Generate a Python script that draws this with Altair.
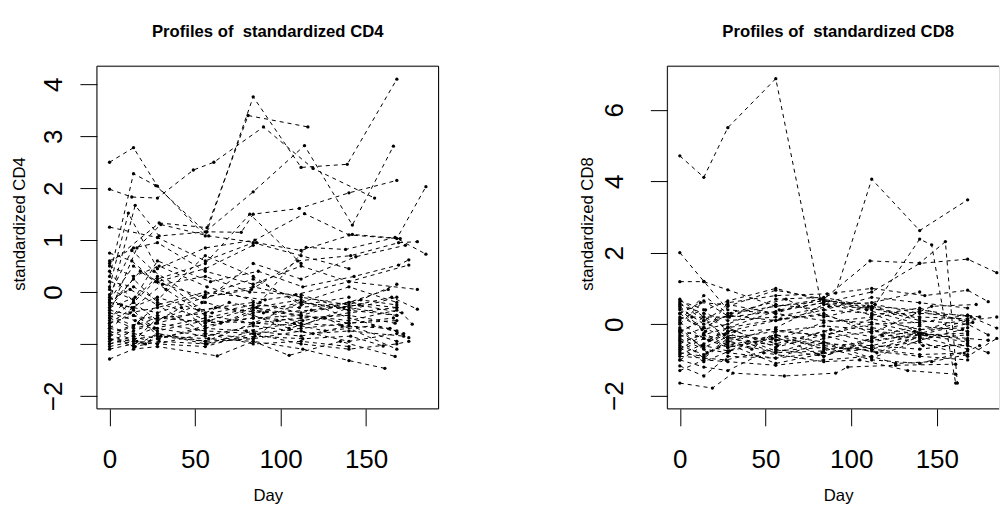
import altair as alt
import pandas as pd

FONT = "Liberation Sans"

# ---- CD4 profiles: one list of days and one list of values per subject ----
cd4_days = [
    [0, 14, 28, 56, 84, 112, 139, 168],
    [0, 29, 57, 81, 116],
    [0, 13, 28, 49, 61, 90, 119, 155],
    [0, 14, 27, 56, 84, 114, 142, 166],
    [0, 15, 29, 57, 77, 84, 111, 140, 168],
    [0, 11, 28, 56, 85, 114, 140, 168, 185],
    [0, 16, 30, 58, 86, 112, 142, 170],
    [0, 13, 27, 55, 83, 110, 141, 169, 180],
    [0, 14, 29, 57, 88, 115, 138, 167, 185],
    [0, 13, 26, 54, 84, 112, 144, 173],
    [0, 15, 28, 59, 87, 113, 143, 169, 175],
    [0, 14, 31, 56, 82, 109, 140, 175],
    [0, 12, 28, 56, 84, 112, 137, 165, 180],
    [0, 14, 28, 62, 90, 118, 146, 171, 177],
    [0, 17, 28, 56, 84, 112, 140, 167],
    [0, 14, 30, 58, 84, 105, 135, 167],
    [0, 14, 28, 63, 84, 113, 140, 161],
    [0, 15, 29, 57, 85, 113, 141, 160],
    [0, 14, 28, 56, 80, 108, 136, 164, 175],
    [0, 15, 28, 56, 84, 112, 140, 168],
    [0, 13, 28, 52, 84, 112, 147, 168],
    [0, 14, 27, 56, 85, 112, 140, 166],
    [0, 14, 28, 56, 84, 119, 140, 172],
    [0, 14, 28, 58, 86, 112],
    [0, 16, 28, 56, 84, 112, 140],
    [0, 14, 28, 42, 56, 84, 112, 140, 168],
    [0, 14, 29, 56, 84, 113, 140, 168],
    [0, 14, 28, 60, 84, 111, 140, 163],
    [0, 12, 28, 56, 91, 112, 140, 168],
    [0, 14, 28, 56, 84, 112, 140],
    [0, 14, 28, 56, 82, 112],
    [0, 14, 26, 56, 84, 112, 140, 168],
    [0, 14, 21, 28, 56, 84, 112, 140, 168],
    [0, 14, 28, 56, 84, 105, 126, 168],
    [0, 7, 28, 56, 84, 112, 140, 168],
    [0, 14, 28, 56, 84, 112, 140, 180],
    [0, 18, 33, 56, 84, 112, 140, 168],
    [0, 14, 28, 56, 84, 112, 140, 168],
    [0, 14, 28, 56, 84, 98, 126, 154, 172],
    [0, 14, 28, 56, 70, 84, 112, 140, 168],
    [0, 14, 28, 65, 84, 112, 140, 168],
    [0, 14, 28, 56, 84],
    [0, 14, 28, 56, 84, 112, 140, 168],
    [0, 14, 28, 56, 84, 112, 140, 168, 175],
    [0, 28, 56, 84, 112, 140],
]
cd4_vals = [
    [2.50, 2.78, 2.04, 1.08, 3.76, 2.40, 2.46, 4.10],
    [0.55, 1.33, 1.24, 3.40, 3.18],
    [1.98, 1.83, 1.81, 2.35, 2.50, 3.18, 2.38, 1.81],
    [0.30, 2.28, 2.05, 1.16, 1.93, 2.82, 1.29, 2.81],
    [-0.20, 1.67, 1.08, 1.16, 1.15, 1.50, 1.61, 1.91, 2.15],
    [0.10, 1.52, 0.45, 0.85, 1.00, 1.51, 1.10, 1.03, 2.03],
    [-0.40, 0.85, 1.30, 1.08, 0.95, 0.80, 1.11, 1.03],
    [0.75, 0.60, 0.20, -0.10, 0.05, 0.60, 0.70, 0.95, 0.97],
    [0.50, 0.30, 0.50, 0.10, -0.20, 0.86, 0.82, 1.05, 0.73],
    [-0.05, 0.80, 0.40, -0.20, 0.55, 0.25, 0.68, 0.90],
    [-0.30, -0.10, 0.60, 0.20, 0.40, 0.10, 0.30, 0.52, 0.62],
    [-0.60, -0.30, 0.15, 0.30, 0.00, -0.05, 0.20, 0.52],
    [-0.10, -0.40, -0.30, -0.05, 0.25, -0.20, -0.30, -0.10, -0.33],
    [-0.50, -0.70, -0.60, -0.30, -0.40, -0.35, -0.25, -0.40, -0.62],
    [-0.80, -0.60, -0.75, -0.55, -0.60, -0.50, -0.45, -0.60],
    [-1.00, -0.90, -0.85, -0.90, -0.95, -1.22, -0.95, -1.24],
    [-1.29, -1.10, -1.05, -1.23, -0.95, -1.10, -1.32, -1.47],
    [-0.90, -1.05, -0.95, -1.00, -0.85, -0.90, -0.85, -1.04],
    [-0.70, -0.80, -0.90, -0.70, -0.75, -0.60, -0.65, -0.70, -0.88],
    [-0.40, -0.55, -0.45, -0.60, -0.50, -0.45, -0.55, -0.35],
    [-0.20, -0.30, -0.10, -0.35, -0.20, -0.40, -0.15, -0.25],
    [-0.95, -0.75, -0.60, -0.75, -0.80, -0.70, -0.60, -0.50],
    [-0.60, -0.45, -0.70, -0.85, -0.65, -0.80, -0.75, -0.85],
    [-0.30, 0.25, -0.20, -0.55, -0.30, -0.60],
    [-0.75, -0.95, -1.00, -0.80, -1.00, -0.95, -1.05],
    [0.40, -0.20, -0.55, -0.30, -0.70, -0.40, -0.20, -0.35, -0.10],
    [-1.10, -1.00, -0.90, -0.65, -0.50, -0.55, -0.40, -0.30],
    [-0.85, -0.65, -0.50, -0.40, -0.25, -0.30, -0.20, 0.05],
    [-0.15, 0.05, -0.25, 0.00, -0.15, -0.05, -0.35, -0.45],
    [0.20, 0.10, -0.15, 0.70, 0.30, -0.25, -0.10],
    [-0.50, -0.20, 0.25, 0.55, 1.50, 0.55],
    [-0.65, -0.85, -0.70, -0.50, -0.30, -0.15, -0.50, -0.75],
    [-1.05, -0.95, -1.00, -0.80, -1.00, -0.75, -0.85, -0.65, -0.95],
    [-0.35, -0.45, -0.55, -0.20, -0.45, -0.70, -0.50, -1.10],
    [-0.55, -0.25, -0.40, -0.10, 0.10, -0.10, -0.25, 0.15],
    [0.60, 0.85, 0.95, 0.40, 0.15, 0.50, 0.20, 0.05],
    [-0.25, 0.40, 0.05, -0.45, -0.60, -0.20, 0.10, -0.20],
    [-0.70, -0.35, -0.85, -0.95, -0.60, -0.65, -0.30, -0.45],
    [-0.45, -0.65, -0.25, -0.80, -0.90, -0.55, -0.75, -0.65, -0.80],
    [0.05, -0.15, 0.30, -0.40, -0.20, -0.30, -0.45, -0.20, -0.30],
    [-0.90, -0.95, -0.50, -0.60, -0.35, -0.45, -0.60, -0.55],
    [-0.15, 0.50, 0.20, 0.45, 0.90],
    [-0.80, -1.05, -0.80, -0.95, -0.90, -0.75, -0.95, -0.80],
    [-1.00, -0.85, -1.00, -1.05, -0.80, -1.00, -1.10, -1.00, -0.95],
    [1.25, 1.05, 0.60, 0.95, 0.70, 0.45],
]

# ---- CD8 profiles ----
cd8_days = [
    [0, 14, 28, 56, 82, 112, 140, 168],
    [0, 14, 28, 56, 91, 112, 140, 168],
    [0, 14, 28, 56, 84, 111, 140, 155, 162],
    [0, 14, 28, 56, 84, 112, 140, 147, 161],
    [0, 19, 31, 61, 91, 98, 126, 161],
    [0, 14, 28, 58, 84, 112, 140, 168, 185],
    [0, 15, 28, 56, 86, 112, 143, 168, 180],
    [0, 14, 29, 56, 84, 110, 140, 170, 185],
    [0, 13, 28, 56, 84, 112, 141, 168],
    [0, 14, 28, 57, 84, 112, 140, 168],
    [0, 14, 28, 56, 83, 112, 140, 166],
    [0, 14, 30, 56, 84, 114, 140, 168, 175],
    [0, 14, 28, 54, 84, 112, 140, 168],
    [0, 16, 28, 56, 84, 112, 137, 168],
    [0, 14, 28, 56, 87, 112, 140, 168, 180],
    [0, 14, 27, 56, 84, 112, 140, 171],
    [0, 14, 28, 56, 84, 115, 140, 168],
    [0, 12, 28, 56, 84, 112, 140, 168, 180],
    [0, 14, 28, 59, 84, 112, 144, 168],
    [0, 14, 28, 56, 84, 112, 140, 165],
    [0, 15, 28, 56, 84, 109, 140],
    [0, 14, 26, 56, 84, 112, 140, 168, 185],
    [0, 14, 28, 56, 81, 112, 140, 168],
    [0, 14, 28, 56, 84, 112, 142, 168, 180],
    [0, 14, 28, 62, 84, 112, 140],
    [0, 14, 28, 49, 84, 105, 133, 161],
    [0, 17, 28, 56, 84, 112, 140, 168],
    [0, 14, 28, 56, 84, 112, 147, 173],
    [0, 14, 28, 56, 84, 112, 140, 168, 185],
    [0, 14, 32, 56, 88, 112, 140, 168],
    [0, 14, 28, 56, 84, 112, 140],
    [0, 14, 28, 56, 84, 118, 140, 168],
    [0, 14, 28, 56, 84, 112, 140, 168, 175],
    [0, 13, 28, 56, 84, 112, 140, 168],
    [0, 14, 28, 42, 56, 84, 112, 140],
    [0, 14, 28, 56, 84, 112, 140, 168],
    [0, 14, 29, 56, 84, 112, 140, 168],
    [0, 14, 28, 56, 84, 112, 140],
    [0, 7, 28, 56, 84, 112, 140, 168],
    [0, 14, 28, 56, 84, 112, 126, 147, 168],
]
cd8_vals = [
    [4.71, 4.11, 5.50, 6.87, 0.70, 0.45, 0.20, 0.15],
    [2.00, 1.20, 0.40, 0.30, 0.87, 4.06, 2.62, 3.48],
    [1.19, 1.19, 0.96, 0.50, 0.70, 1.77, 1.71, 2.31, -1.65],
    [0.60, 0.10, 0.50, 0.95, 0.70, 0.40, 2.38, 2.22, -1.65],
    [-1.65, -1.79, -1.37, -1.45, -1.37, -1.20, -1.15, -1.12],
    [0.70, 0.20, -0.10, 0.40, 0.60, 0.90, 1.70, 1.82, 1.44],
    [0.40, -0.20, 0.60, 0.80, 0.85, 1.00, 0.80, 0.95, 0.63],
    [0.00, 0.65, 0.20, 0.70, 0.75, 0.50, 0.40, 0.20, -0.11],
    [-0.30, -0.60, -0.20, 0.10, 0.40, 0.30, -0.25, 0.10],
    [-0.80, -0.90, -0.40, -0.60, -0.20, -0.50, -0.25, -0.45],
    [-1.17, -1.45, -0.90, -0.95, -0.80, -0.70, -0.85, -0.81],
    [0.20, -0.10, 0.30, 0.50, 0.65, 0.55, 0.30, 0.25, 0.20],
    [-0.50, -0.30, -0.65, -0.40, -0.55, -0.60, -0.30, -0.50],
    [-0.10, -0.80, -0.50, -0.80, -0.75, -0.40, -0.20, 0.15],
    [0.55, 0.30, 0.10, 0.20, 0.50, 0.45, 0.10, 0.00, -0.30],
    [-0.90, -0.95, -1.00, -0.70, -0.90, -0.45, -0.30, 0.05],
    [-0.40, -0.70, -0.80, -0.95, -0.50, -0.80, -0.35, -0.70],
    [0.30, 0.60, 0.55, 0.30, 0.10, 0.05, -0.25, -0.40, -0.45],
    [-0.70, -0.30, -0.10, 0.15, 0.25, -0.10, -0.30, -0.25],
    [-1.00, -0.60, -0.75, -0.30, -0.50, -0.95, -0.45, -0.15],
    [0.65, 0.40, 0.65, 1.00, 0.65, 0.40, 0.00],
    [-0.20, 0.10, -0.30, -0.45, 0.05, 0.20, 0.35, 0.10, 0.20],
    [-0.60, -0.85, -0.55, -1.10, -0.85, -0.60, -0.70, -0.55],
    [-0.35, -0.10, -0.40, -0.20, -0.05, -0.15, -0.60, -0.60, -0.80],
    [0.10, 0.80, 0.30, 0.70, 0.20, 0.50, 0.15],
    [-1.00, -1.20, -1.30, -0.80, -1.05, -1.00, -1.30, -1.40],
    [-0.15, -0.45, -0.10, -0.65, -0.30, 0.00, 0.05, 0.25],
    [0.45, 0.00, 0.25, 0.10, 0.30, -0.25, 0.50, 0.55],
    [-0.55, -0.25, -0.60, -0.30, -0.70, -0.65, -0.50, -0.90, -0.40],
    [-0.85, -0.55, -0.20, -0.55, -0.15, -0.35, -0.05, -0.20],
    [-0.25, 0.20, -0.50, -0.10, 0.55, 0.60, 0.90],
    [0.05, -0.40, -0.65, -0.35, -0.90, -0.30, -0.40, -0.30],
    [-0.75, -0.40, -0.25, -0.75, -0.65, -1.00, -1.10, -0.75, -0.60],
    [0.30, -0.15, 0.00, 0.55, 0.40, 0.75, 0.60, 0.45],
    [-0.45, -0.95, -0.45, -0.70, -0.20, -0.30, -0.70, -0.35],
    [0.15, 0.40, -0.20, -0.15, -0.35, 0.15, -0.15, -0.10],
    [-0.65, -1.05, -0.75, -0.45, -0.60, -0.75, -0.90, -1.00],
    [-0.20, -0.65, -0.35, -0.80, -0.40, -0.20, -0.30],
    [0.50, 0.20, 0.20, 0.35, 0.60, 0.25, 0.45, 0.05],
    [-1.30, -1.00, -1.05, -1.15, -1.00, -0.90, -1.10, -1.05, -0.85],
]

x_ticks = [0, 50, 100, 150]
cd4_ticks = [-2, -1, 0, 1, 2, 3, 4]
cd8_ticks = [-2, 0, 2, 4, 6]


def to_frame(days, vals):
    rows = []
    for sid, (ds, vs) in enumerate(zip(days, vals)):
        for d, v in zip(ds, vs):
            rows.append({"subject": sid, "day": d, "value": v})
    return pd.DataFrame(rows)


def panel(df, title, ytitle, ydomain, yticks, xdomain, width, height,
          label_pad, ytitle_x, title_dx):
    x = alt.X("day:Q",
              scale=alt.Scale(domain=xdomain, nice=False, zero=False),
              axis=alt.Axis(values=x_ticks, title="Day", grid=False, domain=False,
                            tickSize=17, tickColor="black", tickWidth=1,
                            labelFont=FONT, labelFontSize=26, labelColor="black",
                            labelPadding=21, labelFlush=False, labelOverlap=False,
                            labelBaseline="top",
                            titleFont=FONT, titleFontSize=16.7, titleFontWeight="normal",
                            titleColor="black", titleX=171, titleY=92,
                            titleAlign="center", titleBaseline="alphabetic"))
    y = alt.Y("value:Q",
              scale=alt.Scale(domain=ydomain, nice=False, zero=False),
              axis=alt.Axis(values=yticks, title=ytitle, grid=False, domain=False,
                            tickSize=17, tickColor="black", tickWidth=1,
                            labelFont=FONT, labelFontSize=26, labelColor="black",
                            labelAngle=270, labelAlign="center",
                            labelBaseline="alphabetic", labelPadding=label_pad,
                            labelFlush=False, labelOverlap=False,
                            labelExpr="datum.value == -1 ? '' : datum.label",
                            titleFont=FONT, titleFontSize=16.7, titleFontWeight="normal",
                            titleColor="black", titleAngle=270, titleX=ytitle_x,
                            titleY=157.5, titleAlign="center", titleBaseline="middle"))
    base = alt.Chart(df)
    lines = base.mark_line(color="black", strokeWidth=1, strokeDash=[4, 4]).encode(
        x=x, y=y, detail="subject:N", order="day:Q")
    pts = base.mark_circle(color="black", size=11, opacity=1).encode(x=x, y=y)
    frame_df = pd.DataFrame({"k": [0]})
    fb = alt.Chart(frame_df)
    left = fb.mark_rule(color="black", strokeWidth=1).encode(
        x=alt.value(0), y=alt.value(0), y2=alt.value(height))
    top = fb.mark_rule(color="black", strokeWidth=1).encode(
        x=alt.value(0), x2=alt.value(width), y=alt.value(0))
    bottom = fb.mark_rule(color="black", strokeWidth=1).encode(
        x=alt.value(0), x2=alt.value(width), y=alt.value(height))
    layers = [lines, pts, left, top, bottom]
    if title_dx == 0:
        right = fb.mark_rule(color="black", strokeWidth=1).encode(
            x=alt.value(width), y=alt.value(0), y2=alt.value(height))
        layers.append(right)
    return alt.layer(*layers).properties(
        width=width, height=height,
        title=alt.TitleParams(text=title, font=FONT, fontSize=16.7, fontWeight="bold",
                              color="black", anchor="middle", baseline="alphabetic",
                              offset=11.7, dx=title_dx))


cd4_df = to_frame(cd4_days, cd4_vals)
cd8_df = to_frame(cd8_days, cd8_vals)

p1 = panel(cd4_df, "Profiles of \u00a0standardized CD4", "standardized CD4",
           [-2.25, 4.35], cd4_ticks, [-7.4, 192.4], 342, 343, 18.3, -77, 0)
p2 = panel(cd8_df, "Profiles of \u00a0standardized CD8", "standardized CD8",
           [-2.37, 7.22], cd8_ticks, [-7.3, 186.3], 332, 343, 28.3, -79.5, 5)

chart = alt.hconcat(p1, p2, spacing=229, bounds="flush").properties(
    padding={"left": 11, "top": 23, "right": 0, "bottom": 0}
).configure_view(stroke=None).configure(background="white")

chart.save("out.html", embed_options={"renderer": "svg", "actions": False})
